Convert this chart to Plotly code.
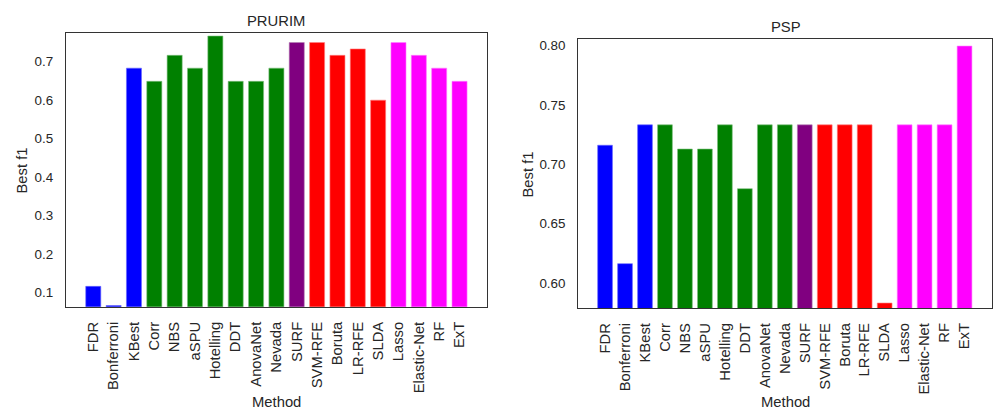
import plotly.graph_objects as go

methods = ["FDR", "Bonferroni", "KBest", "Corr", "NBS", "aSPU", "Hotelling", "DDT",
           "AnovaNet", "Nevada", "SURF", "SVM-RFE", "Boruta", "LR-RFE", "SLDA",
           "Lasso", "Elastic-Net", "RF", "ExT"]
groups = ["univariate"] * 3 + ["network"] * 7 + ["relief"] + ["wrapper"] * 4 + ["embedded"] * 4
prurim_f1 = [0.1154, 0.0656, 0.6833, 0.6490, 0.7167, 0.6833, 0.7669, 0.6490,
             0.6490, 0.6833, 0.7500, 0.7500, 0.7167, 0.7333, 0.6000,
             0.7500, 0.7167, 0.6833, 0.6490]
psp_f1 = [0.7161, 0.6163, 0.7333, 0.7333, 0.7129, 0.7129, 0.7333, 0.6795,
          0.7333, 0.7333, 0.7333, 0.7333, 0.7333, 0.7333, 0.5831,
          0.7333, 0.7333, 0.7333, 0.7997]
prurim_ticks = [0.1, 0.2, 0.3, 0.4, 0.5, 0.6, 0.7]
psp_ticks = [0.60, 0.65, 0.70, 0.75, 0.80]

group_colors = {"univariate": "#0000ff", "network": "#008000", "relief": "#800080",
                "wrapper": "#ff0000", "embedded": "#ff00ff"}
edge_colors = {"univariate": "#6a6aff", "network": "#7fc07f", "relief": "#b37fb3",
               "wrapper": "#ff7f7f", "embedded": "#ff7fff"}
bar_colors = [group_colors[g] for g in groups]
bar_edges = [edge_colors[g] for g in groups]

W, H = 993, 409
FONT = "Liberation Sans, Arial, sans-serif"
TXT = "#262626"

fig = go.Figure()
fig.add_trace(go.Bar(x=list(range(len(methods))), y=prurim_f1, marker_color=bar_colors,
                     marker_line_color=bar_edges, marker_line_width=0.6,
                     width=0.74, xaxis="x", yaxis="y", showlegend=False))
fig.add_trace(go.Bar(x=list(range(len(methods))), y=psp_f1, marker_color=bar_colors,
                     marker_line_color=bar_edges, marker_line_width=0.6,
                     width=0.74, xaxis="x2", yaxis="y2", showlegend=False))

def px_x(p):
    return p / W

def px_y(p):
    return 1 - p / H

xcommon = dict(tickmode="array", tickvals=list(range(len(methods))), ticktext=methods,
               tickangle=-90, tickfont=dict(family=FONT, size=14.8, color=TXT),
               showline=True, mirror=True, linecolor="#333333", linewidth=1.3,
               showgrid=False, zeroline=False, ticks="outside", ticklen=8,
               tickcolor="rgba(0,0,0,0)", range=[-1.34, 19.35])
ycommon = dict(tickfont=dict(family=FONT, size=13.4, color=TXT),
               showline=True, mirror=True, linecolor="#333333", linewidth=1.3,
               showgrid=False, zeroline=False, ticks="outside", ticklen=9,
               tickcolor="rgba(0,0,0,0)")

fig.update_layout(
    width=W, height=H, margin=dict(l=0, r=0, t=0, b=0),
    paper_bgcolor="white", plot_bgcolor="white",
    font=dict(family=FONT, color=TXT),
    xaxis=dict(domain=[px_x(66), px_x(487)], anchor="y", **xcommon),
    yaxis=dict(domain=[px_y(306.7), px_y(33.3)], anchor="x", range=[0.0625, 0.774],
               tickvals=prurim_ticks, ticktext=[f"{t:.1f}" for t in prurim_ticks], **ycommon),
    xaxis2=dict(domain=[px_x(578.3), px_x(991.5)], anchor="y2", **xcommon),
    yaxis2=dict(domain=[px_y(308), px_y(39.3)], anchor="x2", range=[0.5789, 0.8054],
                tickvals=psp_ticks, ticktext=[f"{t:.2f}" for t in psp_ticks], **ycommon),
)

ann = [
    ("PRURIM", 276.3, 20.7, 0),
    ("PSP", 785.5, 27.0, 0),
    ("Best f1", 22, 170.5, -90),
    ("Best f1", 527, 174.5, -90),
    ("Method", 276.5, 401.5, 0),
    ("Method", 785.5, 401.5, 0),
]
for text, x, y, ang in ann:
    fig.add_annotation(text=text, x=px_x(x), y=px_y(y), xref="paper", yref="paper",
                       showarrow=False, textangle=ang, xanchor="center", yanchor="middle",
                       font=dict(family=FONT, size=14.8, color=TXT))

fig.write_html("out.html", config={"displayModeBar": False},
               post_script="document.body.style.margin='0';document.body.style.overflow='hidden';")
